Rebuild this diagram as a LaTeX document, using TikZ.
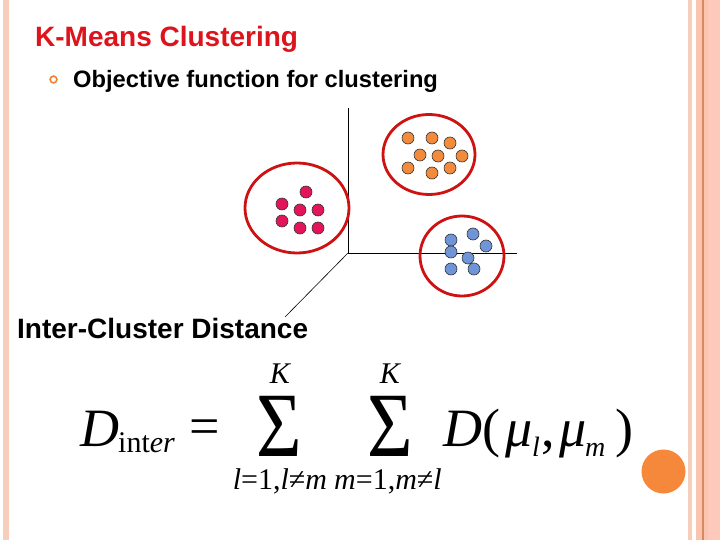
\documentclass[tikz,border=0pt]{standalone}
\usepackage{fontspec}
\setsansfont{Liberation Sans}
\newfontfamily\tnr{Liberation Serif}
\usetikzlibrary{calc}

\definecolor{titlered}{RGB}{222,20,28}
\definecolor{ringred}{RGB}{206,18,18}
\definecolor{dotpink}{RGB}{228,20,92}
\definecolor{dotorange}{RGB}{242,140,60}
\definecolor{dotblue}{RGB}{112,148,216}
\definecolor{bulletorange}{RGB}{240,130,50}
\definecolor{stripelight}{RGB}{247,205,187}
\definecolor{stripemid}{RGB}{250,196,174}
\definecolor{stripedark}{RGB}{214,136,96}
\definecolor{stripepink}{RGB}{253,201,186}
\definecolor{knob}{RGB}{245,136,58}

\begin{document}
\begin{tikzpicture}[x=1pt,y=-1pt,
  dot/.style={circle,draw=black!80,line width=0.6pt,inner sep=0pt,minimum size=12pt},
  ring/.style={draw=ringred,line width=2.8pt},
  axis/.style={draw=black,line width=1pt},
  head/.style={font=\sffamily\bfseries\fontsize{28}{28}\selectfont,inner sep=0pt,anchor=base west},
  eqit/.style={font=\tnr\itshape\fontsize{54}{54}\selectfont,inner sep=0pt,anchor=base west},
  equp/.style={font=\tnr\fontsize{54}{54}\selectfont,inner sep=0pt,anchor=base west},
  eqsub/.style={font=\tnr\itshape\fontsize{28}{28}\selectfont,inner sep=0pt,anchor=base west},
  bigsum/.style={font=\tnr\fontsize{92}{92}\selectfont,inner sep=0pt,anchor=base,text height=60pt,text depth=0pt},
  limit/.style={font=\tnr\itshape\fontsize{30}{30}\selectfont,inner sep=0pt,anchor=base,text depth=0pt}]

% Page and side stripes
\useasboundingbox (0,0) rectangle (720,540);
\fill[white] (0,0) rectangle (720,540);
\fill[stripelight] (3,0) rectangle (9,540);
\fill[stripelight] (688,0) rectangle (692,540);
\fill[stripemid] (696,0) rectangle (702,540);
\fill[stripedark] (702,0) rectangle (703.5,540);
\fill[stripemid] (703.5,0) rectangle (708,540);
\fill[stripepink] (708,0) rectangle (720,540);
\fill[knob] (663.5,471.5) circle (22);

% Headings
\node[head,text=titlered] (title) at (35,47) {K-Means Clustering};
\draw[bulletorange,line width=1.6pt] (53.5,79.5) circle (3.4);
\node[head,font=\sffamily\bfseries\fontsize{23.7}{23.7}\selectfont] (obj) at (73,87.5) {Objective function for clustering};
\node[head] (inter) at (17,338) {Inter-Cluster Distance};

% Axes
\coordinate (O) at (348,253);
\coordinate (ytop) at (348,108);
\coordinate (xend) at (517,253);
\coordinate (zend) at (285,317);
\draw[axis] (O) -- (ytop);
\draw[axis] (O) -- (xend);
\draw[black,line width=0.6pt] (O) -- (zend);

% Cluster rings
\draw[ring] (297,208) ellipse [x radius=52, y radius=45];
\draw[ring] (429,154.5) ellipse [x radius=46, y radius=40];
\draw[ring] (462,256) ellipse [x radius=42, y radius=40];

% Points
\foreach \px/\py [count=\i] in {306/192,282/204,300/210,318/210,282/221,300/228,318/228}
  \node[dot,fill=dotpink] (p\i) at (\px,\py) {};
\foreach \px/\py [count=\i] in {408/138,432/138,450/143,420/155,438/156,462/156,408/168,432/173,450/168}
  \node[dot,fill=dotorange] (q\i) at (\px,\py) {};
\foreach \px/\py [count=\i] in {451/240,473/234,486/246,451/252,468/258,451/269,474/269}
  \node[dot,fill=dotblue] (b\i) at (\px,\py) {};

% Formula
\node[eqit] (dd) at (80,446) {D};
\node[font=\tnr\fontsize{30}{30}\selectfont,inner sep=0pt,anchor=base west] (dsub) at (118,452) {int\textit{er}};
\node[equp,anchor=base] (eqs) at (205,444) {=};
\node[bigsum] (sum1) at (279,456) {\scalebox{0.85}[1]{Σ}};
\node[limit] (k1) at (280,383) {K};
\node[limit] (low1) at (280,489) {l\textup{=1,}l\textup{≠}m};
\node[bigsum] (sum2) at (390,456) {\scalebox{0.85}[1]{Σ}};
\node[limit] (k2) at (390,383) {K};
\node[limit] (low2) at (388,489) {m\textup{=1,}m\textup{≠}l};
\node[eqit] (dm) at (443,446) {D\textup{(}};
\node[eqit] (mu1) at (505,446) {μ};
\node[eqsub] (sl) at (532,456) {l};
\node[equp] (comma) at (541,446) {,};
\node[eqit] (mu2) at (559,446) {μ};
\node[eqsub] (sm) at (585,456) {m};
\node[equp] (rp) at (615,446) {)};

\end{tikzpicture}
\end{document}
